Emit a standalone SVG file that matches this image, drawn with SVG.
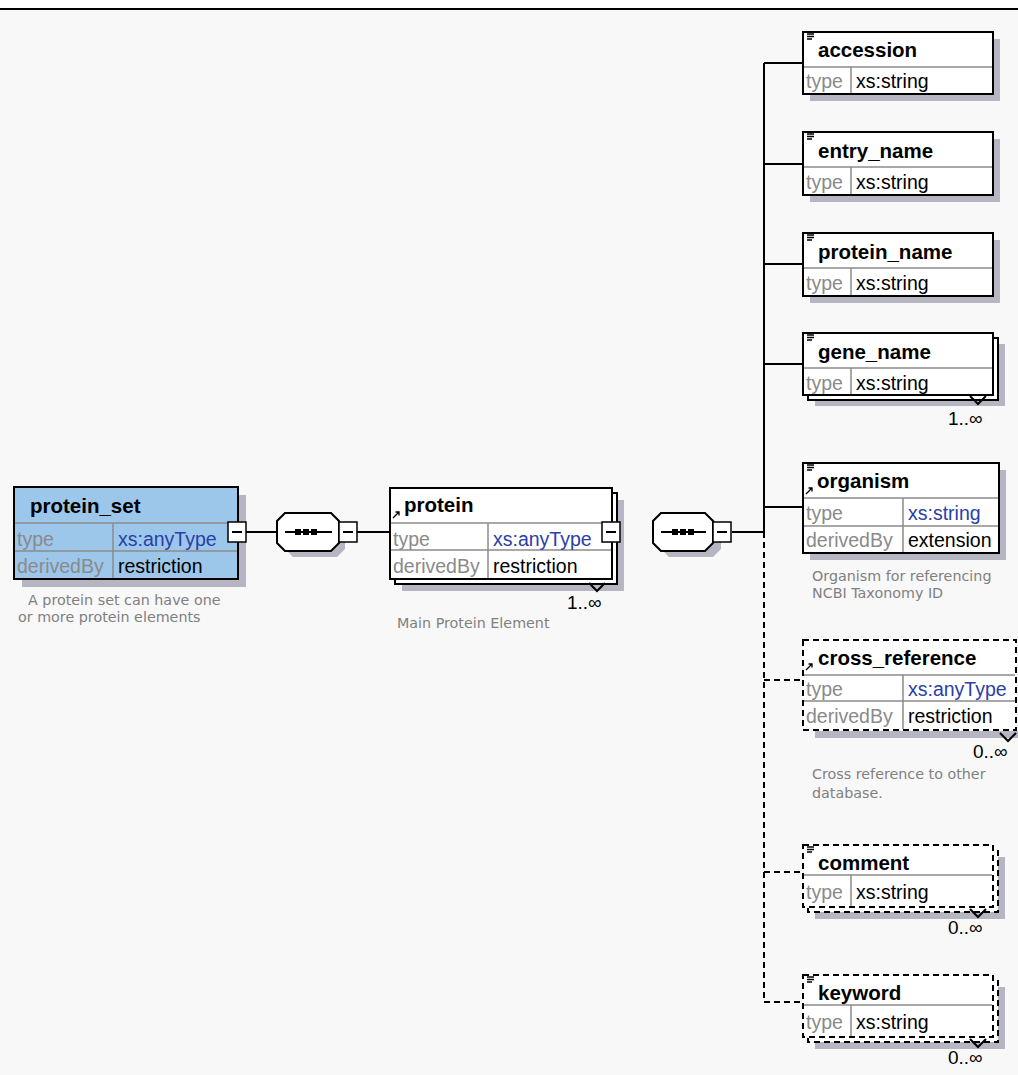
<svg xmlns="http://www.w3.org/2000/svg" width="1018" height="1075" viewBox="0 0 1018 1075">
<defs>
<style>
.bg{fill:#f8f8f8}
.box{fill:#ffffff;stroke:#000;stroke-width:2}
.dbox{fill:#ffffff;stroke:#000;stroke-width:2;stroke-dasharray:6 4}
.sh{fill:#b6b6c2}
.div{stroke:#8c8c8c;stroke-width:1.5;fill:none}
.ln{stroke:#000;stroke-width:2;fill:none}
.dln{stroke:#000;stroke-width:2;fill:none;stroke-dasharray:6 4}
.hd{font-family:"Liberation Sans",Arial,sans-serif;font-weight:bold;font-size:20.5px;fill:#000}
.lb{font-family:"Liberation Sans",Arial,sans-serif;font-size:19.5px;fill:#8a8a8a}
.vl{font-family:"Liberation Sans",Arial,sans-serif;font-size:19.5px;fill:#000}
.bl{font-family:"Liberation Sans",Arial,sans-serif;font-size:19.5px;fill:#2a40a8}
.ds{font-family:"DejaVu Sans",Verdana,sans-serif;font-size:14.3px;fill:#808080}
.mu{font-family:"Liberation Sans",Arial,sans-serif;font-size:19px;fill:#000}
.mb{fill:#fff;stroke:#000;stroke-width:1.5}
.ic{stroke:#000;stroke-width:1.3;fill:none}
</style>
</defs>
<rect x="0" y="0" width="1018" height="1075" fill="#ffffff"/>
<rect class="bg" x="0" y="10" width="1018" height="1065"/>
<line x1="0" y1="9" x2="1018" y2="9" stroke="#000" stroke-width="2"/>

<g id="connectors">
<path class="ln" d="M246 532H277M357 532H390M732 532H764M764 63V532M764 63H803M764 164H803M764 264H803M764 364H803M764 507H803"/>
<path class="dln" d="M764 532V1002M764 680H803M764 872H803M764 1002H803"/>
</g>

<g id="protein_set">
<rect class="sh" x="22" y="495" width="224" height="92"/>
<rect x="14" y="487" width="224" height="92" fill="#9cc6ea" stroke="#000" stroke-width="2"/>
<path class="div" d="M15 523H237M15 551H237M113 523V578"/>
<text class="hd" x="30" y="513">protein_set</text>
<text class="lb" x="17" y="546">type</text>
<text class="bl" x="118" y="546">xs:anyType</text>
<text class="lb" x="17" y="573">derivedBy</text>
<text class="vl" x="118" y="573">restriction</text>
<rect class="mb" x="228" y="522" width="18" height="20"/>
<path class="ln" d="M232 532H242" stroke-width="1.5"/>
<text class="ds" x="28" y="605">A protein set can have one</text>
<text class="ds" x="18" y="622">or more protein elements</text>
</g>

<g id="sequence1">
<polygon class="sh" points="293,519 337,519 345,527 345,549 337,557 293,557 285,549 285,527"/>
<polygon class="box" points="285,513 331,513 339,521 339,543 331,551 285,551 277,543 277,521"/>
<path class="ln" d="M285 532H332" stroke-width="1.5"/>
<rect x="295" y="529" width="6" height="6" fill="#000"/>
<rect x="303" y="529" width="6" height="6" fill="#000"/>
<rect x="311" y="529" width="6" height="6" fill="#000"/>
<rect class="mb" x="339" y="522" width="18" height="20"/>
<path class="ln" d="M343 532H353" stroke-width="1.5"/>
</g>

<g id="protein">
<rect class="sh" x="402" y="500" width="222" height="91"/>
<rect class="box" x="395" y="493" width="222" height="91"/>
<rect class="box" x="390" y="488" width="222" height="91"/>
<path class="div" d="M391 523H611M391 550H611M488 523V578"/>
<path class="ic" d="M393 518L399 512M395.5 512H399V515.5" stroke-width="2"/>
<text class="hd" x="404" y="512">protein</text>
<text class="lb" x="393" y="546">type</text>
<text class="bl" x="493" y="546">xs:anyType</text>
<text class="lb" x="393" y="573">derivedBy</text>
<text class="vl" x="493" y="573">restriction</text>
<rect class="mb" x="602" y="522" width="18" height="20"/>
<path class="ln" d="M606 532H616" stroke-width="1.5"/>
<path class="ln" d="M589 583L597 591L605 583" stroke-width="1.5"/>
<text class="mu" x="567" y="609">1..∞</text>
<text class="ds" x="397" y="628">Main Protein Element</text>
</g>

<g id="sequence2">
<polygon class="sh" points="669,519 713,519 721,527 721,549 713,557 669,557 661,549 661,527"/>
<polygon class="box" points="661,513 705,513 713,521 713,543 705,551 661,551 653,543 653,521"/>
<path class="ln" d="M661 532H706" stroke-width="1.5"/>
<rect x="672" y="529" width="6" height="6" fill="#000"/>
<rect x="680" y="529" width="6" height="6" fill="#000"/>
<rect x="688" y="529" width="6" height="6" fill="#000"/>
<rect class="mb" x="713" y="522" width="18" height="20"/>
<path class="ln" d="M717 532H727" stroke-width="1.5"/>
</g>

<g id="accession">
<rect class="sh" x="810" y="39" width="190" height="62"/>
<rect class="box" x="803" y="32" width="190" height="62"/>
<path class="div" d="M804 67H992M851 67V93"/>
<path class="ic" d="M807 34H814M807 36.5H814M807 39H812"/>
<text class="hd" x="818" y="57">accession</text>
<text class="lb" x="806" y="88">type</text>
<text class="vl" x="856" y="88">xs:string</text>
</g>

<g id="entry_name">
<rect class="sh" x="810" y="139" width="190" height="63"/>
<rect class="box" x="803" y="132" width="190" height="63"/>
<path class="div" d="M804 167H992M851 167V194"/>
<path class="ic" d="M807 134H814M807 136.5H814M807 139H812"/>
<text class="hd" x="818" y="158">entry_name</text>
<text class="lb" x="806" y="189">type</text>
<text class="vl" x="856" y="189">xs:string</text>
</g>

<g id="protein_name">
<rect class="sh" x="810" y="240" width="190" height="63"/>
<rect class="box" x="803" y="233" width="190" height="63"/>
<path class="div" d="M804 268H992M851 268V295"/>
<path class="ic" d="M807 235H814M807 237.5H814M807 240H812"/>
<text class="hd" x="818" y="259">protein_name</text>
<text class="lb" x="806" y="290">type</text>
<text class="vl" x="856" y="290">xs:string</text>
</g>

<g id="gene_name">
<rect class="sh" x="815" y="344" width="190" height="62"/>
<rect class="box" x="808" y="338" width="190" height="62"/>
<rect class="box" x="803" y="333" width="190" height="62"/>
<path class="div" d="M804 368H992M851 368V394"/>
<path class="ic" d="M807 335H814M807 337.5H814M807 340H812"/>
<text class="hd" x="818" y="359">gene_name</text>
<text class="lb" x="806" y="390">type</text>
<text class="vl" x="856" y="390">xs:string</text>
<path class="ln" d="M970 396L978 404L986 396" stroke-width="1.5"/>
<text class="mu" x="948" y="425">1..∞</text>
</g>

<g id="organism">
<rect class="sh" x="810" y="470" width="196" height="90"/>
<rect class="box" x="803" y="463" width="196" height="90"/>
<path class="div" d="M804 498H998M804 526H998M903 498V552"/>
<path class="ic" d="M807 465H814M807 467.5H814M807 470H812"/>
<path class="ic" d="M806 494L812 488M808.5 488H812V491.5" stroke-width="2"/>
<text class="hd" x="817" y="488">organism</text>
<text class="lb" x="806" y="520">type</text>
<text class="bl" x="908" y="520">xs:string</text>
<text class="lb" x="806" y="547">derivedBy</text>
<text class="vl" x="908" y="547">extension</text>
<text class="ds" x="812" y="581">Organism for referencing</text>
<text class="ds" x="812" y="598">NCBI Taxonomy ID</text>
</g>

<g id="cross_reference">
<rect class="sh" x="815" y="731" width="203" height="7"/>
<rect class="dbox" x="803" y="640" width="213" height="90"/>
<path class="div" d="M804 675H1015M804 701H1015M903 675V729"/>
<path class="ic" d="M806 670L812 664M808.5 664H812V667.5" stroke-width="2"/>
<text class="hd" x="818" y="665">cross_reference</text>
<text class="lb" x="806" y="696">type</text>
<text class="bl" x="908" y="696">xs:anyType</text>
<text class="lb" x="806" y="723">derivedBy</text>
<text class="vl" x="908" y="723">restriction</text>
<path class="ln" d="M1000 733L1008 741L1016 733" stroke-width="1.5"/>
<text class="mu" x="973" y="758">0..∞</text>
<text class="ds" x="812" y="779">Cross reference to other</text>
<text class="ds" x="812" y="798">database.</text>
</g>

<g id="comment">
<rect class="sh" x="815" y="857" width="190" height="62"/>
<rect class="dbox" x="808" y="850" width="190" height="62"/>
<rect class="dbox" x="803" y="845" width="190" height="62"/>
<path class="div" d="M804 875H992M851 875V906"/>
<path class="ic" d="M807 847H814M807 849.5H814M807 852H812"/>
<text class="hd" x="818" y="870">comment</text>
<text class="lb" x="806" y="899">type</text>
<text class="vl" x="856" y="899">xs:string</text>
<path class="ln" d="M970 909L978 917L986 909" stroke-width="1.5"/>
<text class="mu" x="948" y="934">0..∞</text>
</g>

<g id="keyword">
<rect class="sh" x="815" y="987" width="190" height="62"/>
<rect class="dbox" x="808" y="980" width="190" height="62"/>
<rect class="dbox" x="803" y="975" width="190" height="62"/>
<path class="div" d="M804 1005H992M851 1005V1036"/>
<path class="ic" d="M807 977H814M807 979.5H814M807 982H812"/>
<text class="hd" x="818" y="1000">keyword</text>
<text class="lb" x="806" y="1029">type</text>
<text class="vl" x="856" y="1029">xs:string</text>
<path class="ln" d="M970 1039L978 1047L986 1039" stroke-width="1.5"/>
<text class="mu" x="948" y="1064">0..∞</text>
</g>
</svg>
